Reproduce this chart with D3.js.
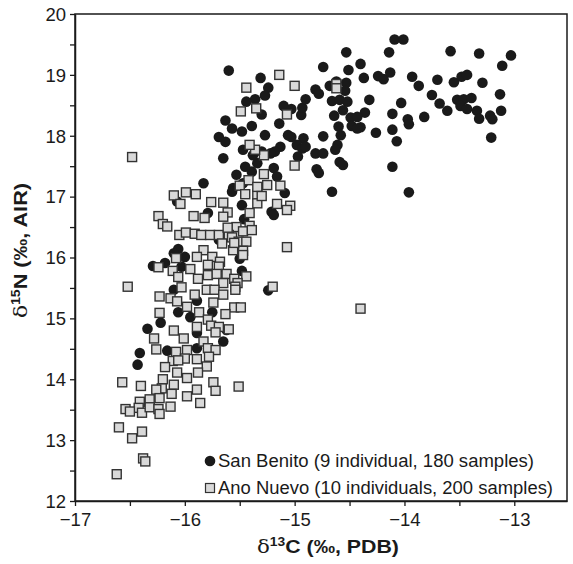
<!DOCTYPE html>
<html><head><meta charset="utf-8">
<script src="https://cdn.jsdelivr.net/npm/d3@7"></script>
<style>body{margin:0;background:#fff}svg{display:block}text{font-family:"Liberation Sans",Arial,sans-serif}</style>
</head><body><div id="chart"></div>
<script>
const xTicks = [-17, -16, -15, -14, -13];
const yTicks = [12, 13, 14, 15, 16, 17, 18, 19, 20];
const legendLabels = ["San Benito (9 individual, 180 samples)", "Ano Nuevo (10 individuals, 200 samples)"];

// San Benito [δ13C, δ15N]
const sanBenito = [
[-14.09,19.58],[-14.01,19.58],[-14.14,19.37],[-13.58,19.39],[-13.32,19.35],[-13.03,19.32],[-13.11,19.15],[-14.37,18.95],[-14.40,19.18],[-14.24,18.98],[-14.19,18.93],[-14.13,19.04],[-13.93,18.97],[-13.87,18.82],[-13.70,18.92],[-13.55,18.88],[-13.48,18.97],[-13.43,19.00],[-13.29,18.87],[-13.13,18.68],[-13.12,18.41],[-13.75,18.67],[-13.68,18.53],[-13.61,18.41],[-13.52,18.59],[-13.46,18.60],[-13.39,18.62],[-13.49,18.49],[-13.43,18.44],[-13.34,18.41],[-13.32,18.28],[-13.22,18.33],[-13.20,18.27],[-13.21,17.97],[-14.32,18.59],[-14.36,18.38],[-14.03,18.54],[-14.11,18.36],[-13.97,18.27],[-13.96,18.19],[-13.82,18.31],[-14.26,18.05],[-14.11,18.10],[-14.07,17.91],[-14.11,17.49],[-13.96,17.07],[-14.40,18.14],
[-14.53,19.37],[-14.74,19.13],[-14.51,19.08],[-15.31,18.95],[-15.24,18.79],[-15.27,18.66],[-15.36,18.60],[-15.30,18.35],[-15.39,18.16],[-15.27,18.01],[-15.14,18.20],[-15.10,18.49],[-15.03,18.44],[-14.94,18.34],[-14.93,18.46],[-14.90,18.60],[-14.81,18.76],[-14.78,18.69],[-14.68,18.82],[-14.62,18.89],[-14.53,18.87],[-14.54,18.74],[-14.66,18.57],[-14.59,18.59],[-14.52,18.56],[-14.64,18.33],[-14.56,18.42],[-14.49,18.30],[-14.43,18.31],[-14.48,18.16],[-14.43,18.12],[-14.60,18.15],[-14.58,18.01],[-14.74,17.99],[-14.61,17.85],[-14.63,17.77],[-14.59,17.57],[-14.56,17.52],[-14.80,17.45],[-14.78,17.39],[-14.66,17.08],[-15.06,18.01],[-15.03,17.98],[-14.92,17.96],[-14.98,17.85],[-14.93,17.79],[-14.90,17.82],[-14.81,17.71],[-14.74,17.71],[-14.97,17.66],[-15.13,17.82],[-15.18,17.74],[-15.22,17.71],[-15.30,17.74],[-15.38,17.68],[-15.34,17.55],[-15.19,17.47],[-15.16,17.33],[-15.09,17.06],[-15.21,16.75],[-15.39,17.41],
[-15.60,19.07],[-15.44,18.56],[-15.63,18.25],[-15.57,18.12],[-15.48,18.07],[-15.69,17.98],[-15.63,17.90],[-15.65,17.63],[-15.47,17.77],[-15.45,17.49],[-15.53,17.36],[-15.56,17.14],[-15.83,17.22],
[-15.57,17.08],[-15.47,17.22],[-15.48,16.86],[-16.07,16.92],[-15.79,16.73],[-15.46,16.63],[-16.06,16.14],[-16.10,16.07],[-16.00,16.01],[-16.29,15.86],[-16.18,15.91],[-16.03,15.85],[-16.10,15.47],[-15.50,15.98],[-15.48,15.78],[-15.69,16.29],[-15.19,16.70],[-15.24,15.46],
[-16.43,14.24],[-16.41,14.43],[-16.34,14.83],[-16.22,14.93],[-16.16,14.47],[-16.06,15.10],[-15.95,15.02],[-15.89,14.51],[-15.75,15.10],[-15.65,14.62],[-15.89,14.76],[-15.62,14.81],[-15.89,15.29]
];

// Ano Nuevo [δ13C, δ15N]
const anoNuevo = [
[-15.14,19.00],[-15.00,18.82],[-14.62,18.85],[-14.62,18.78],[-15.35,18.45],[-15.07,18.35],[-15.28,17.68],[-15.36,17.77],[-15.00,17.51],[-15.28,17.37],[-15.25,17.19],[-15.13,17.18],[-15.34,17.03],[-15.34,16.89],[-15.16,16.88],[-15.04,16.85],[-15.07,16.78],[-15.41,16.73],[-15.44,18.79],[-15.49,18.40],[-15.41,17.85],[-15.42,17.27],[-15.50,17.18],[-15.34,17.16],[-15.45,17.04],
[-16.48,17.65],[-16.10,17.02],[-15.99,17.07],[-15.90,17.04],[-16.04,16.88],[-15.76,16.91],[-15.65,16.90],[-15.61,16.74],[-15.65,16.67],[-16.24,16.68],[-16.20,16.55],[-16.16,16.51],[-15.92,16.68],[-15.82,16.65],[-15.53,16.50],[-15.41,16.52],[-15.47,16.43],[-15.39,16.45],[-16.05,16.37],[-15.99,16.41],[-15.91,16.39],[-15.85,16.37],[-15.77,16.37],[-15.69,16.37],[-15.60,16.37],[-15.57,16.33],[-15.51,16.26],[-15.44,16.26],[-15.66,16.23],[-15.56,16.12],[-15.47,16.11],[-15.83,16.12],[-15.47,16.04],[-16.08,15.99],[-15.89,16.01],[-15.75,16.01],[-15.68,15.93],[-15.69,15.85],[-16.24,15.84],[-16.11,15.78],[-16.06,15.68],[-15.95,15.81],[-15.79,15.88],[-15.88,15.65],[-15.79,15.71],[-15.71,15.73],[-15.62,15.73],[-15.55,15.65],[-15.44,15.69],[-15.52,15.58],[-15.65,15.58],[-15.80,15.47],[-15.73,15.47],[-15.65,15.39],[-15.54,15.52],[-16.03,15.51],[-16.52,15.52],[-16.23,15.36],[-16.13,15.33],[-15.91,15.39],
[-15.30,17.01],[-15.61,16.49],[-15.55,16.24],[-15.07,16.17],[-15.20,15.52],
[-16.07,15.28],[-15.98,15.19],[-15.74,15.26],[-15.54,15.47],[-15.55,15.18],[-15.49,15.18],[-15.63,15.07],[-15.87,15.10],[-16.23,15.09],[-15.79,14.98],[-15.89,14.86],[-15.76,14.88],[-15.69,14.86],[-15.60,14.82],[-15.72,14.77],[-16.10,14.80],[-16.01,14.67],[-16.28,14.67],[-15.83,14.62],[-16.26,14.49],[-16.08,14.45],[-15.98,14.48],[-15.79,14.51],[-15.72,14.48],[-15.78,14.37],[-15.89,14.33],[-16.00,14.34],[-16.11,14.30],[-16.06,14.31],[-16.18,14.20],[-16.07,14.11],[-15.80,14.21],[-15.88,14.11],[-15.98,14.02],[-16.20,14.00],[-16.10,13.91],[-16.21,13.85],[-16.12,13.76],[-15.98,13.72],[-15.89,13.83],[-15.74,13.95],[-15.72,13.81],[-15.51,13.88],[-15.86,13.61],[-16.57,13.95],[-16.40,13.89],[-16.26,13.83],[-16.32,13.67],[-16.41,13.63],[-16.23,13.69],[-16.42,13.53],[-16.54,13.51],[-16.50,13.47],[-16.39,13.45],[-16.32,13.54],[-16.24,13.51],[-16.13,13.55],[-16.23,13.43],[-16.60,13.21],[-16.48,13.03],[-16.39,13.14],[-16.38,12.70],[-16.36,12.65],[-16.62,12.44],[-14.40,15.16]
];

const W = 573, H = 564;
const m = {left: 75, right: 6, top: 14, bottom: 63};
const svg = d3.select("#chart").append("svg").attr("width", W).attr("height", H);

const x = d3.scaleLinear().domain([-17, -12.52]).range([m.left, W - m.right]);
const y = d3.scaleLinear().domain([12, 20]).range([H - m.bottom, m.top]);

const ink = "#1a1a1a";

// frame
svg.append("rect").attr("x", x.range()[0]).attr("y", y.range()[1])
  .attr("width", x.range()[1] - x.range()[0]).attr("height", y.range()[0] - y.range()[1])
  .attr("fill", "none").attr("stroke", ink).attr("stroke-width", 1.5);

const fmt = d => (d < 0 ? "\u2212" + Math.abs(d) : String(d));

const xMinor = d3.range(-17, -12.5, 0.5);
const yMinor = d3.range(12, 20.01, 0.5);

const xAxis = svg.append("g").attr("transform", `translate(0,${y(12)})`)
  .call(d3.axisBottom(x).tickValues(xMinor).tickSize(5).tickSizeOuter(0)
    .tickFormat(d => xTicks.includes(d) ? fmt(d) : ""));
const yAxis = svg.append("g").attr("transform", `translate(${x(-17)},0)`)
  .call(d3.axisLeft(y).tickValues(yMinor).tickSize(5).tickSizeOuter(0)
    .tickFormat(d => yTicks.includes(d) ? String(d) : ""));

[xAxis, yAxis].forEach(g => {
  g.select(".domain").attr("stroke", ink).attr("stroke-width", 1.5);
  g.selectAll(".tick line").attr("stroke", ink).attr("stroke-width", 1.3);
  g.selectAll(".tick text").attr("fill", ink).attr("font-size", 18.5)
    .attr("font-family", "Liberation Sans, Arial, sans-serif");
});
xAxis.selectAll(".tick text").attr("dy", "0.95em").attr("y", 7);
yAxis.selectAll(".tick text").attr("x", -9).attr("dy", "0.34em");

// points: circles first, squares on top
svg.append("g").selectAll("circle").data(sanBenito).join("circle")
  .attr("cx", d => x(d[0])).attr("cy", d => y(d[1])).attr("r", 5.3)
  .attr("fill", ink);

const s = 9;
svg.append("g").selectAll("rect").data(anoNuevo).join("rect")
  .attr("x", d => x(d[0]) - s / 2).attr("y", d => y(d[1]) - s / 2)
  .attr("width", s).attr("height", s)
  .attr("fill", "#d9d9d9").attr("stroke", "#333").attr("stroke-width", 1.4);

// legend
const lg = svg.append("g");
lg.append("circle").attr("cx", 210).attr("cy", 461).attr("r", 5.3).attr("fill", ink);
lg.append("rect").attr("x", 205.5).attr("y", 483.5).attr("width", 9).attr("height", 9)
  .attr("fill", "#d9d9d9").attr("stroke", "#333").attr("stroke-width", 1.2);
const legendWidths = [316, 335];
lg.selectAll("text").data(legendLabels).join("text")
  .attr("x", 218).attr("y", (d, i) => 467 + i * 27)
  .attr("font-size", 17.5).attr("fill", ink)
  .attr("textLength", (d, i) => legendWidths[i]).attr("lengthAdjust", "spacingAndGlyphs")
  .text(d => d);

// axis titles
const xt = svg.append("text").attr("x", 257).attr("y", 553)
  .attr("font-size", 18.5).attr("font-weight", "bold").attr("fill", ink)
  .attr("textLength", 142).attr("lengthAdjust", "spacingAndGlyphs");
xt.append("tspan").attr("font-weight", "normal").attr("font-family", "DejaVu Serif, serif").text("\u03b4");
xt.append("tspan").attr("font-size", 12).attr("dy", -7).text("13");
xt.append("tspan").attr("dy", 7).text("C (\u2030, PDB)");

const yt = svg.append("text").attr("transform", `translate(27,318) rotate(-90)`)
  .attr("font-size", 18.5).attr("font-weight", "bold").attr("fill", ink)
  .attr("textLength", 135).attr("lengthAdjust", "spacingAndGlyphs");
yt.append("tspan").attr("font-weight", "normal").attr("font-family", "DejaVu Serif, serif").text("\u03b4");
yt.append("tspan").attr("font-size", 12).attr("dy", -7).text("15");
yt.append("tspan").attr("dy", 7).text("N (\u2030, AIR)");
</script></body></html>
